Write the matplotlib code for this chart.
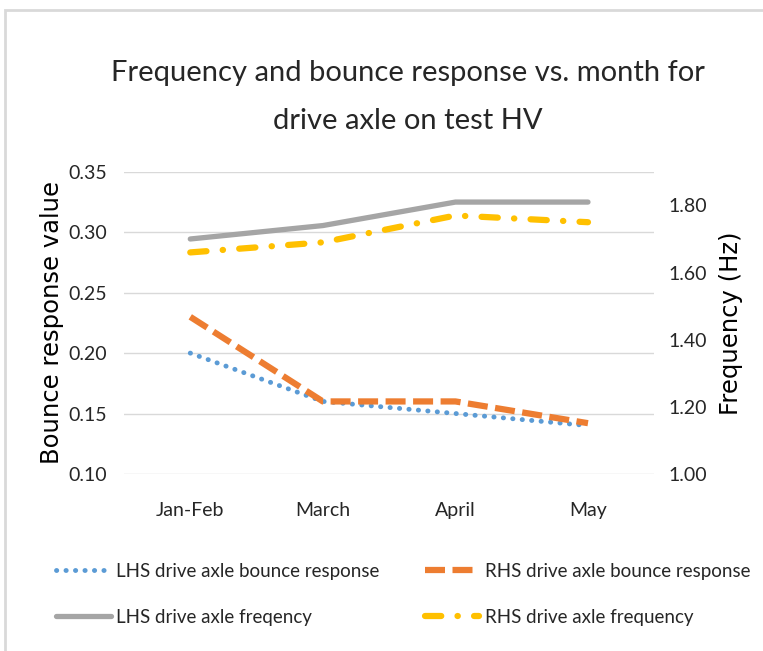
import matplotlib
matplotlib.use("Agg")
import matplotlib.pyplot as plt
from matplotlib.patches import Rectangle

months = ["Jan-Feb", "March", "April", "May"]
lhs_bounce = [0.20, 0.16, 0.15, 0.14]
rhs_bounce = [0.23, 0.16, 0.16, 0.142]
lhs_freq = [1.70, 1.74, 1.81, 1.81]
rhs_freq = [1.66, 1.69, 1.77, 1.75]

plt.rcParams["font.family"] = ["Lato", "DejaVu Sans"]

fig = plt.figure(figsize=(7.63, 6.51), dpi=100)
ax = fig.add_axes([0.1625, 0.272, 0.695, 0.464])
ax2 = ax.twinx()

x = range(len(months))
l1, = ax.plot(x, lhs_bounce, color="#5B9BD5", lw=3.5, linestyle=(0, (0.05, 1.9)),
              dash_capstyle="round", label="LHS drive axle bounce response")
l2, = ax.plot(x, rhs_bounce, color="#ED7D31", lw=4.5, linestyle=(0, (3.2, 1.2)),
              label="RHS drive axle bounce response")
l3, = ax2.plot(x, lhs_freq, color="#A5A5A5", lw=3.8, solid_capstyle="round",
               label="LHS drive axle freqency")
l4, = ax2.plot(x, rhs_freq, color="#FFC000", lw=4.5, linestyle=(0, (2.6, 2.6, 0.05, 2.6)),
               dash_capstyle="round", label="RHS drive axle frequency")

ax.set_xlim(-0.5, 3.5)
ax.set_ylim(0.10, 0.35)
yt = [0.10, 0.15, 0.20, 0.25, 0.30, 0.35]
ax.set_yticks(yt)
ax.set_yticklabels([f"{v:.2f}" for v in yt])
ax2.set_ylim(1.0, 1.9)
yt2 = [1.0, 1.2, 1.4, 1.6, 1.8]
ax2.set_yticks(yt2)
ax2.set_yticklabels([f"{v:.2f}" for v in yt2])
ax.set_xticks(list(x))
ax.set_xticklabels(months)

ax.grid(axis="y", color="#D9D9D9", lw=1)
ax.set_axisbelow(True)
for a in (ax, ax2):
    for s in a.spines.values():
        s.set_visible(False)
    a.tick_params(length=0, labelsize=14, colors="#262626")
ax.tick_params(axis="y", pad=12)
ax.tick_params(axis="x", pad=20)
ax2.tick_params(axis="y", pad=10)

ax.set_ylabel("Bounce response value", fontsize=17.5, family="DejaVu Sans", labelpad=3)
ax2.set_ylabel("Frequency (Hz)", fontsize=17.5, family="DejaVu Sans", labelpad=9)

fig.text(0.534, 0.908, "Frequency and bounce response vs. month for\ndrive axle on test HV",
         ha="center", va="top", fontsize=21, color="#262626", linespacing=2.05)

fig.legend([l1, l3, l2, l4], [l1.get_label(), l3.get_label(), l2.get_label(), l4.get_label()],
           loc="upper left", bbox_to_anchor=(0.064, 0.147), ncol=2, frameon=False,
           fontsize=13.5, handlelength=2.9, handletextpad=0.3, columnspacing=2.4,
           labelspacing=1.55, borderaxespad=0, labelcolor="#262626")

fig.patches.append(Rectangle((5 / 763, -0.1), 1.2, 1 - 10 / 651 + 0.1, transform=fig.transFigure,
                             fill=False, edgecolor="#D9D9D9", lw=2))

fig.savefig("out.png", dpi=100)
